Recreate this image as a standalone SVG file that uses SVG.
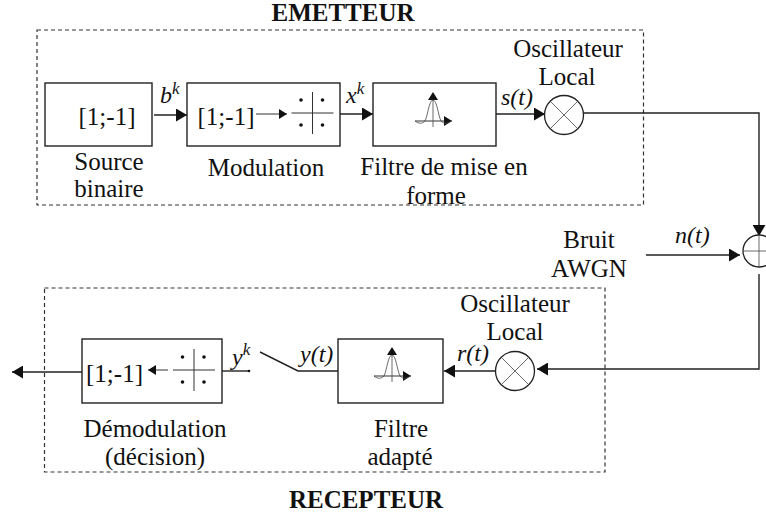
<svg xmlns="http://www.w3.org/2000/svg" width="766" height="515" viewBox="0 0 766 515">
<style>
text{font-family:"Liberation Serif","Times New Roman",serif;font-size:25px;fill:#111;text-anchor:middle}
.b{font-weight:bold}
.i{font-style:italic;font-size:24px;text-anchor:start}
.sup{font-size:17px;font-style:italic}
.box{fill:#fff;stroke:#222;stroke-width:1.4}
.dash{fill:none;stroke:#333;stroke-width:1.2;stroke-dasharray:4 3}
.w{fill:#fff;stroke:#222;stroke-width:1.3}
.t{fill:none;stroke:#444;stroke-width:.8}
.l{fill:none;stroke:#222;stroke-width:1.4}
.thin{fill:none;stroke:#333;stroke-width:1}
.d{fill:#111}
</style>
<defs>
<marker id="a" markerUnits="userSpaceOnUse" markerWidth="12" markerHeight="13" refX="11" refY="6.5" orient="auto"><path d="M0 0L11 6.500L0 13Z" fill="#111"/></marker>
<marker id="s" markerUnits="userSpaceOnUse" markerWidth="9" markerHeight="10" refX="8" refY="5" orient="auto"><path d="M0 0L8 5L0 10Z" fill="#111"/></marker>
<g id="constellation">
<path class="thin" d="M-21 0H21M0 -21V21"/>
<circle class="d" cx="-11.500" cy="-13" r="1.800"/><circle class="d" cx="10" cy="-13" r="1.800"/>
<circle class="d" cx="-11.500" cy="12" r="1.800"/><circle class="d" cx="10" cy="12" r="1.800"/>
</g>
<g id="pulse">
<path class="thin" d="M-18 0H19" marker-end="url(#s)"/>
<path class="t" d="M0 -27V6"/>
<path d="M-5 -21L0 -29L5 -21Z" fill="#111"/>
<path class="t" d="M-18 0C-14 3 -11 3 -8 0C-5 -6 -4 -21 0 -21C4 -21 5 -6 8 0C11 3 14 3 18 0"/>
</g>
</defs>
<g id="frames">
<rect class="dash" x="37" y="30" width="606.500" height="175"/>
<rect class="dash" x="44.500" y="288" width="560.500" height="184"/>
</g>
<g id="connectors">
<path class="l" d="M154 115H187" marker-end="url(#a)"/>
<path class="l" d="M340 114H373" marker-end="url(#a)"/>
<path class="l" d="M496 114H545" marker-end="url(#a)"/>
<path class="l" d="M584 113H759V236" marker-end="url(#a)"/>
<path class="l" d="M646 255H740" marker-end="url(#a)"/>
<path class="l" d="M759 274V369H537" marker-end="url(#a)"/>
<path class="l" d="M495 371H444" marker-end="url(#a)"/>
<path class="l" d="M338 371H298L260 352"/>
<path class="l" d="M222 371H249"/>
<circle class="d" cx="249" cy="371" r="1.300"/>
<path class="l" d="M82 372H12" marker-end="url(#a)"/>
</g>
<g id="title-emetteur"><text class="b" x="343" y="21">EMETTEUR</text></g>
<g id="source">
<rect class="box" x="45" y="83" width="107" height="63"/>
<text x="107" y="125">[1;-1]</text>
<text x="109" y="170">Source</text><text x="109" y="197">binaire</text>
</g>
<g id="modulation">
<rect class="box" x="187" y="83" width="153" height="63"/>
<text x="226" y="125">[1;-1]</text>
<path class="thin" d="M256 114H287" marker-end="url(#s)"/>
<use href="#constellation" x="312.500" y="113"/>
<text x="266" y="176">Modulation</text>
</g>
<g id="filtre-emission">
<rect class="box" x="373" y="83" width="123" height="63"/>
<use href="#pulse" x="433" y="121"/>
<text x="444" y="175">Filtre de mise en</text><text x="436" y="204">forme</text>
</g>
<g id="mixer-emission">
<circle class="w" cx="564" cy="115" r="19.500"/>
<path class="t" d="M550.200 101.200L577.800 128.800M577.800 101.200L550.200 128.800"/>
<text x="568" y="57">Oscillateur</text><text x="567" y="85">Local</text>
</g>
<g id="sommateur">
<circle class="w" cx="759" cy="251" r="16"/>
<path class="t" d="M743 251H775M759 235V267"/>
</g>
<g id="bruit"><text x="589" y="248">Bruit</text><text x="589" y="277">AWGN</text></g>
<g id="mixer-reception">
<circle class="w" cx="515" cy="371" r="19.500"/>
<path class="t" d="M501.200 357.200L528.800 384.800M528.800 357.200L501.200 384.800"/>
<text x="515" y="312">Oscillateur</text><text x="515" y="340">Local</text>
</g>
<g id="filtre-adapte">
<rect class="box" x="338" y="339" width="105" height="64"/>
<use href="#pulse" x="392" y="376"/>
<text x="401" y="437">Filtre</text><text x="400" y="465">adapté</text>
</g>
<g id="demodulation">
<rect class="box" x="82" y="339" width="140" height="64"/>
<text x="114.500" y="382">[1;-1]</text>
<path class="thin" d="M168 370H148" marker-end="url(#s)"/>
<use href="#constellation" x="194" y="370"/>
<text x="155" y="437">Démodulation</text><text x="155" y="465">(décision)</text>
</g>
<g id="title-recepteur"><text class="b" x="366" y="508">RECEPTEUR</text></g>
<g id="labels">
<text class="i" x="160" y="103">b<tspan class="sup" dy="-9">k</tspan></text>
<text class="i" x="346" y="103">x<tspan class="sup" dy="-9">k</tspan></text>
<text class="i" x="501" y="105">s(t)</text>
<text class="i" x="675" y="243">n(t)</text>
<text class="i" x="232" y="365">y<tspan class="sup" dy="-10">k</tspan></text>
<text class="i" x="300" y="362">y(t)</text>
<text class="i" x="457" y="361">r(t)</text>
</g>
</svg>
